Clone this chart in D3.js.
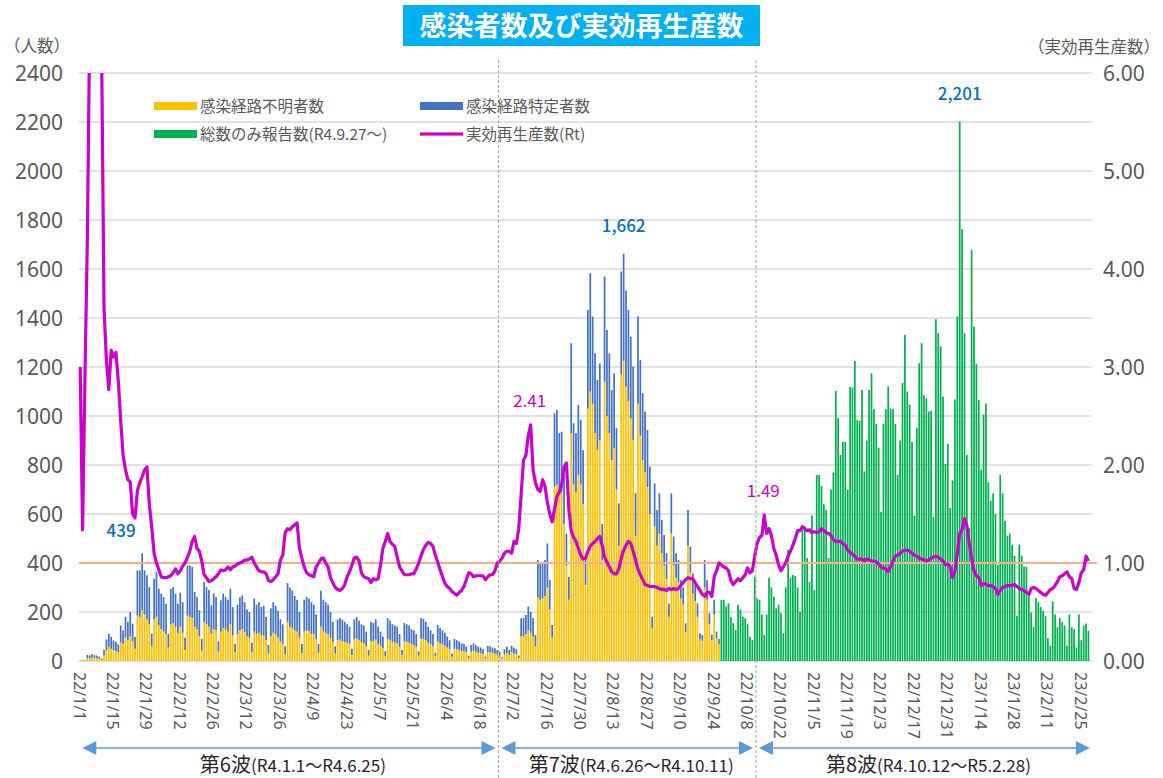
<!DOCTYPE html>
<html><head><meta charset="utf-8">
<script src="https://cdn.jsdelivr.net/npm/d3@7"></script>
<style>
body{margin:0;background:#fff}
text{font-family:"Noto Sans CJK JP","Noto Sans",sans-serif}
</style>
</head><body>
<svg id="chart" width="1163" height="778"></svg>
<script>
// ---------------- DATA ----------------
const startDate = "2022-01-01";   // first day on the axis
const axisDays = 425;             // 2022-01-01 .. 2023-03-01
const title = "感染者数及び実効再生産数";
const seriesNames = ["感染経路不明者数","感染経路特定者数","総数のみ報告数(R4.9.27～)","実効再生産数(Rt)"];

// 2022-01-01 .. 2022-09-26 (daily)
const unknownRoute = [
1,2,2,12,10,14,12,
11,9,5,22,45,58,50,
45,40,35,75,70,95,85,
100,80,50,185,180,208,190,
170,150,60,170,180,145,130,
120,110,55,150,155,140,115,
140,115,45,185,180,175,140,
130,100,42,160,150,140,110,
130,125,38,120,135,128,120,
150,105,35,110,125,130,118,
100,95,35,120,110,115,105,
105,85,30,100,115,108,95,
80,70,28,160,140,135,125,
120,95,32,120,125,122,110,
110,90,33,140,120,115,110,
95,78,30,85,88,80,78,
75,70,25,88,92,85,75,
72,60,22,82,80,88,70,
62,52,20,90,85,78,75,
72,58,24,80,78,75,68,
65,58,22,92,90,85,75,
68,60,20,80,72,68,62,
55,48,17,50,48,45,40,
40,35,12,38,42,38,34,
32,28,10,36,35,32,30,
26,22,9,27,32,25,35,
30,27,12,100,100,110,125,
115,100,60,260,250,255,265,
300,210,95,712,720,680,690,
560,390,250,930,720,690,760,
720,640,310,1030,1100,1050,930,
860,900,410,1140,1000,930,820,
870,700,470,1170,1225,1120,1060,
990,900,510,1050,920,820,770,
710,600,135,550,470,520,440,
390,335,180,520,390,340,320,
255,230,118,470,360,275,245,
180,88,82,300,250,150,85,
190,92,70];

const knownRoute = [
1,1,2,13,12,14,12,
11,9,5,23,43,54,48,
39,38,33,70,55,85,75,
100,72,48,185,190,231,180,
180,152,52,166,183,150,145,
141,124,55,145,147,135,119,
139,125,50,205,210,209,142,
131,107,48,162,152,150,117,
145,136,42,128,140,133,130,
145,115,35,120,135,138,122,
110,105,40,135,120,125,115,
120,95,35,115,125,117,110,
90,80,32,158,160,153,140,
130,105,38,130,137,133,130,
120,100,37,147,130,125,120,
105,82,30,85,87,88,82,
75,70,25,82,88,80,75,
73,60,23,78,75,82,70,
58,48,20,85,80,72,70,
68,52,21,75,72,70,62,
60,52,18,83,82,75,65,
57,50,15,67,63,57,53,
45,37,13,40,37,35,32,
30,25,8,27,30,27,24,
23,20,8,26,25,23,22,
19,16,6,21,26,20,27,
25,21,10,74,76,78,97,
85,75,46,152,148,150,147,
180,120,52,299,305,250,246,
200,130,94,367,250,240,285,
264,220,110,403,483,356,326,
287,315,150,429,351,325,286,
304,250,174,420,437,392,373,
334,302,175,356,309,273,248,
233,193,46,175,146,164,136,
124,105,55,164,118,100,92,
75,70,36,146,107,83,72,
55,25,24,112,80,45,23,
60,28,20];

// 2022-09-27 .. 2023-02-28 (daily, total only)
const totalOnlyStart = "2022-09-27";
const totalOnly = [
249,250,222,235,180,154,127,230,210,181,
174,150,99,86,344,255,250,190,105,190,
340,300,263,215,230,195,113,300,453,340,
351,347,300,201,535,549,420,322,594,290,
759,759,714,640,617,420,700,770,1103,991,
841,894,894,700,1118,1116,1225,983,980,1106,
774,900,1106,1174,1028,968,871,609,968,1028,
1121,1031,1028,968,759,900,1135,1331,1100,1045,
894,594,950,1215,1297,1085,1072,1018,1021,587,
1395,1338,1284,1079,804,886,624,737,1068,1406,
2201,1762,1338,841,542,1678,1365,1212,1065,781,
1006,1051,729,654,684,600,392,759,684,572,
512,520,475,430,183,475,430,385,385,272,
198,138,257,240,220,205,183,93,63,243,
190,138,175,160,145,63,190,138,130,55,
190,85,145,153,123];

// effective reproduction number, 2022-01-01 .. 2023-02-28
const rt = [
3.00,1.34,2.90,4.30,6.50,8.00,9.00,8.50,7.20,6.20,
3.60,3.07,2.77,3.17,3.10,3.15,2.85,2.45,2.10,1.95,
1.85,1.83,1.50,1.46,1.74,1.82,1.88,1.95,1.98,1.60,
1.37,1.10,1.00,0.93,0.86,0.85,0.85,0.86,0.87,0.90,
0.94,0.89,0.92,0.97,1.00,1.06,1.12,1.22,1.27,1.15,
1.12,1.02,0.88,0.85,0.81,0.82,0.84,0.86,0.89,0.93,
0.92,0.93,0.96,0.93,0.96,0.97,0.99,1.00,1.01,1.03,
1.03,1.04,1.06,1.00,0.96,0.92,0.91,0.91,0.89,0.82,
0.81,0.83,0.86,0.89,1.03,1.08,1.31,1.35,1.34,1.37,
1.39,1.41,1.15,1.05,0.96,0.90,0.88,0.87,0.86,0.96,
1.00,1.04,1.05,1.00,0.96,0.85,0.80,0.75,0.73,0.72,
0.74,0.78,0.86,0.91,0.98,1.05,1.06,1.02,0.90,0.86,
0.85,0.84,0.80,0.84,0.83,0.84,0.98,1.15,1.22,1.30,
1.22,1.19,1.17,1.06,0.96,0.92,0.88,0.88,0.88,0.89,
0.89,0.94,1.00,1.07,1.14,1.18,1.21,1.20,1.17,1.08,
1.01,0.93,0.86,0.79,0.76,0.74,0.71,0.69,0.67,0.70,
0.72,0.76,0.83,0.90,0.89,0.86,0.87,0.87,0.87,0.87,
0.83,0.86,0.88,0.88,0.92,1.00,1.02,1.05,1.10,1.12,
1.12,1.10,1.22,1.20,1.35,1.70,2.05,2.10,2.30,2.41,
1.95,1.82,1.75,1.73,1.85,1.78,1.62,1.50,1.42,1.55,
1.68,1.72,1.80,1.98,2.02,1.55,1.33,1.26,1.22,1.15,
1.08,1.04,1.05,1.12,1.17,1.20,1.22,1.25,1.27,1.18,
1.06,1.01,0.96,0.91,0.89,0.89,0.94,1.05,1.13,1.18,
1.22,1.20,1.12,1.03,0.94,0.88,0.83,0.78,0.77,0.76,
0.76,0.76,0.75,0.74,0.73,0.73,0.72,0.74,0.73,0.74,
0.73,0.74,0.77,0.80,0.83,0.85,0.84,0.84,0.80,0.76,
0.72,0.68,0.66,0.70,0.70,0.66,0.86,0.92,1.00,0.98,
0.96,0.95,0.92,0.82,0.78,0.81,0.84,0.82,0.85,0.88,
0.95,0.90,0.92,1.07,1.20,1.26,1.28,1.49,1.30,1.35,
1.28,1.15,1.08,0.98,0.92,0.96,1.00,1.07,1.12,1.18,
1.25,1.33,1.33,1.37,1.35,1.33,1.34,1.31,1.32,1.31,
1.32,1.35,1.33,1.31,1.30,1.28,1.24,1.22,1.22,1.22,
1.20,1.18,1.13,1.11,1.09,1.07,1.04,1.04,1.04,1.02,
1.04,1.03,1.02,1.02,1.01,0.99,0.96,0.95,0.94,0.91,
0.96,1.02,1.07,1.08,1.10,1.12,1.13,1.13,1.12,1.10,
1.08,1.07,1.05,1.04,1.03,1.02,1.03,1.05,1.06,1.07,
1.06,1.04,1.02,0.98,0.99,0.96,0.85,0.92,1.10,1.30,
1.34,1.45,1.38,1.20,1.05,0.92,0.87,0.85,0.77,0.79,
0.78,0.77,0.77,0.76,0.74,0.68,0.72,0.75,0.76,0.77,
0.77,0.77,0.78,0.76,0.74,0.73,0.72,0.70,0.68,0.74,
0.75,0.74,0.72,0.70,0.68,0.67,0.70,0.73,0.74,0.77,
0.81,0.86,0.87,0.89,0.91,0.86,0.84,0.74,0.73,0.80,
0.90,0.93,1.07,1.02];

const xTickLabels = ["22/1/1","22/1/15","22/1/29","22/2/12","22/2/26","22/3/12","22/3/26","22/4/9","22/4/23","22/5/7","22/5/21","22/6/4","22/6/18","22/7/2","22/7/16","22/7/30","22/8/13","22/8/27","22/9/10","22/9/24","22/10/8","22/10/22","22/11/5","22/11/19","22/12/3","22/12/17","22/12/31","23/1/14","23/1/28","23/2/11","23/2/25"];
const leftTicks = [0,200,400,600,800,1000,1200,1400,1600,1800,2000,2200,2400];
const rightTicks = [0,1,2,3,4,5,6];
const valueLabels = [
  {date:"2022-01-27", value:439, text:"439"},
  {date:"2022-08-17", value:1662, text:"1,662"},
  {date:"2023-01-05", value:2201, text:"2,201"}
];
const rtLabels = [
  {date:"2022-07-09", value:2.41, text:"2.41"},
  {date:"2022-10-15", value:1.49, text:"1.49"}
];
const waves = [
  {name:"第6波", range:"(R4.1.1～R4.6.25)", from:"2022-01-01", to:"2022-06-25"},
  {name:"第7波", range:"(R4.6.26～R4.10.11)", from:"2022-06-26", to:"2022-10-11"},
  {name:"第8波", range:"(R4.10.12～R5.2.28)", from:"2022-10-12", to:"2023-02-28"}
];

// ---------------- CHART ----------------
const svg = d3.select("#chart");
const parse = d3.utcParse("%Y-%m-%d");
const fmt = d3.utcFormat("%Y-%m-%d");
const start = parse(startDate);
const days = d3.range(axisDays).map(i => fmt(d3.utcDay.offset(start, i)));
const dayIdx = s => Math.round((parse(s) - start) / 864e5);

const L = 79, R = 1092, T = 73, B = 661;
const x = d3.scaleBand().domain(days).range([L, R]).paddingInner(0.28).paddingOuter(0.14);
const step = x.step();
const cx = d => x(d) + x.bandwidth()/2;
const y = d3.scaleLinear().domain([0, 2400]).range([B, T]);
const yR = d3.scaleLinear().domain([0, 6]).range([B, T]);

const grey = "#595959";

// gridlines
svg.append("g").selectAll("line").data(leftTicks).join("line")
  .attr("x1", L).attr("x2", R).attr("y1", d => y(d)).attr("y2", d => y(d))
  .attr("stroke", "#d9d9d9").attr("stroke-width", 1.5);

// left axis
const yAxisL = d3.axisLeft(y).tickValues(leftTicks).tickSize(0).tickPadding(0).tickFormat(d3.format("d"));
const gL = svg.append("g").attr("transform", `translate(63,0)`).call(yAxisL);
gL.select(".domain").remove();
gL.selectAll("text").attr("fill", grey).attr("font-size", 21).attr("dy", "0.36em")
  .style("font-family", "'Noto Sans','DejaVu Sans',sans-serif");

// right axis
const yAxisR = d3.axisRight(yR).tickValues(rightTicks).tickSize(0).tickPadding(0).tickFormat(d3.format(".2f"));
const gR = svg.append("g").attr("transform", `translate(1103,0)`).call(yAxisR);
gR.select(".domain").remove();
gR.selectAll("text").attr("fill", grey).attr("font-size", 21).attr("dy", "0.36em")
  .style("font-family", "'Noto Sans','DejaVu Sans',sans-serif");

// axis unit titles
svg.append("text").attr("x", 4).attr("y", 52).attr("font-size", 16.5).attr("fill", grey).text("（人数）");
svg.append("text").attr("x", 1160).attr("y", 53).attr("text-anchor", "end").attr("font-size", 16.5).attr("fill", grey).text("（実効再生産数）");

// bars: stacked unknown + known
const stackRows = unknownRoute.map((u, i) => ({date: days[i], unknown: u, known: knownRoute[i]}));
const stack = d3.stack().keys(["unknown", "known"])(stackRows);
const stackColors = {unknown: "#ffc000", known: "#4472c4"};
svg.append("g").selectAll("g").data(stack).join("g")
  .attr("fill", s => stackColors[s.key])
  .selectAll("rect").data(s => s).join("rect")
  .attr("x", d => x(d.data.date)).attr("width", x.bandwidth())
  .attr("y", d => y(d[1])).attr("height", d => Math.max(0, y(d[0]) - y(d[1])));

const off = dayIdx(totalOnlyStart);
svg.append("g").attr("fill", "#00b050").selectAll("rect").data(totalOnly).join("rect")
  .attr("x", (v, i) => x(days[off + i])).attr("width", x.bandwidth())
  .attr("y", v => y(v)).attr("height", v => B - y(v));

// reference line Rt = 1
svg.append("line").attr("x1", L).attr("x2", 1097).attr("y1", yR(1)).attr("y2", yR(1))
  .attr("stroke", "#f4b183").attr("stroke-width", 2.2);

// Rt line
svg.append("clipPath").attr("id", "plotclip").append("rect")
  .attr("x", L - 5).attr("y", T).attr("width", R - L + 10).attr("height", B - T);
svg.append("path").datum(rt).attr("clip-path", "url(#plotclip)")
  .attr("fill", "none").attr("stroke", "#cc00cc").attr("stroke-width", 3.2)
  .attr("stroke-linejoin", "round")
  .attr("d", d3.line().x((v, i) => cx(days[i])).y(v => yR(v)));

// wave separators
const sepX = [dayIdx(waves[1].from), dayIdx(waves[2].from)].map(i => x(days[i]) - step*0.14);
svg.append("g").selectAll("line").data(sepX).join("line")
  .attr("x1", d => d).attr("x2", d => d).attr("y1", 60).attr("y2", 778)
  .attr("stroke", "#a6a6a6").attr("stroke-width", 1).attr("stroke-dasharray", "3,2");

// x tick labels
const tickIdx = xTickLabels.map((t, i) => i * 14);
svg.append("g").selectAll("text").data(tickIdx).join("text")
  .attr("transform", (d, i) => `translate(${cx(days[d]) - 1},672) rotate(90)`)
  .attr("dy", "0.35em").attr("font-size", 16).attr("fill", grey)
  .style("font-family", "'Noto Sans','DejaVu Sans',sans-serif")
  .text((d, i) => xTickLabels[i]);

// value labels
svg.append("g").selectAll("text").data(valueLabels).join("text")
  .attr("x", (d, i) => cx(d.date) + (i === 0 ? -21 : 0))
  .attr("y", (d, i) => y(d.value) - (i === 0 ? 16 : 22))
  .attr("text-anchor", "middle").attr("font-size", 17).attr("font-weight", 500)
  .attr("fill", "#0070c0").text(d => d.text);
svg.append("g").selectAll("text").data(rtLabels).join("text")
  .attr("x", d => cx(d.date) - 1).attr("y", d => yR(d.value) - 18)
  .attr("text-anchor", "middle").attr("font-size", 17)
  .attr("fill", "#cc00cc").text(d => d.text);

// legend
const legendColors = ["#ffc000", "#4472c4", "#00b050", "#cc00cc"];
const legPos = [[154, 106], [420, 106], [154, 134], [420, 134]];
const lg = svg.append("g").selectAll("g").data(seriesNames).join("g")
  .attr("transform", (d, i) => `translate(${legPos[i][0]},${legPos[i][1]})`);
lg.append("rect").attr("x", 0).attr("y", (d, i) => i === 3 ? -1.6 : -4)
  .attr("width", 43).attr("height", (d, i) => i === 3 ? 3.2 : 8)
  .attr("fill", (d, i) => legendColors[i]);
lg.append("text").attr("x", 46).attr("dy", "0.36em").attr("font-size", 15.5).attr("fill", grey).text(d => d);

// waves
const arrowColor = "#5b9bd5";
const ay = 748;
const wg = svg.append("g");
waves.forEach((w, k) => {
  const x0 = (k === 0 ? x(days[0]) : x(days[dayIdx(w.from)]) - step*0.14) + 3;
  const x1 = (k === 2 ? x(days[dayIdx(w.to)]) + step + 3 : x(days[dayIdx(w.to) + 1]) - step*0.14) - 3;
  wg.append("line").attr("x1", x0 + 10).attr("x2", x1 - 10).attr("y1", ay).attr("y2", ay)
    .attr("stroke", arrowColor).attr("stroke-width", 1.5);
  wg.append("path").attr("d", `M${x0},${ay} L${x0 + 14},${ay - 7} L${x0 + 14},${ay + 7} Z`).attr("fill", arrowColor);
  wg.append("path").attr("d", `M${x1},${ay} L${x1 - 14},${ay - 7} L${x1 - 14},${ay + 7} Z`).attr("fill", arrowColor);
  const t = wg.append("text").attr("x", (x0 + x1) / 2 + 4).attr("y", 772).attr("text-anchor", "middle").attr("fill", "#262626");
  t.append("tspan").attr("font-size", 20).text(w.name);
  t.append("tspan").attr("font-size", 17).text(w.range);
});

// title
const tg = svg.append("g");
tg.append("rect").attr("x", 403).attr("y", 5).attr("width", 357).attr("height", 41).attr("fill", "#00b0f0");
tg.append("text").attr("x", 581.5).attr("y", 36).attr("text-anchor", "middle")
  .attr("font-size", 27).attr("font-weight", 700).attr("fill", "#fff").text(title);
</script>
</body></html>
